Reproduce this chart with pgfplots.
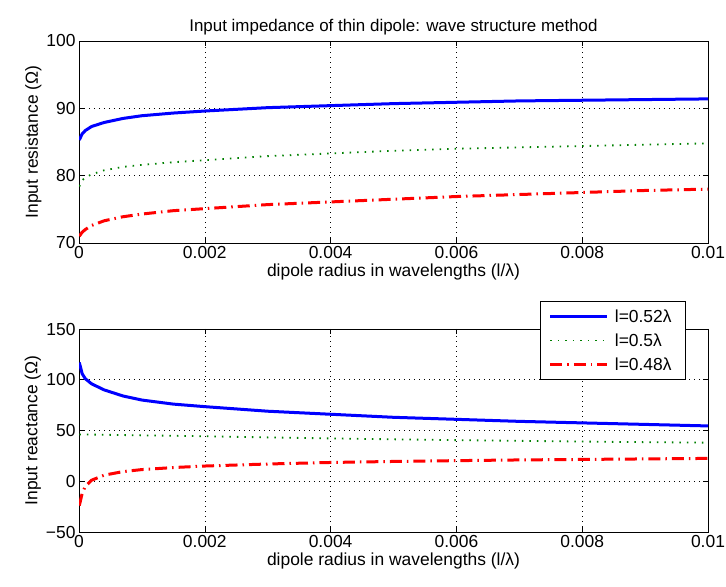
\documentclass[border=0pt]{standalone}
\usepackage{pgfplots}
\pgfplotsset{compat=1.18}
\usepackage{fontspec}
\setmainfont{Liberation Sans}
\begin{document}
\begin{tikzpicture}
\pgfplotsset{
  myax/.style={
    scale only axis, width=629bp, anchor=south west,
    xmin=0, xmax=0.01, scaled x ticks=false,
    xtick={0,0.002,0.004,0.006,0.008,0.01},
    xticklabels={0,0.002,0.004,0.006,0.008,0.01},
    tick align=inside, major tick length=5bp,
    xmajorgrids, ymajorgrids,
    major grid style={black, line width=0.5bp, dash pattern=on 1bp off 4bp},
    axis line style={line width=0.8bp},
    every tick/.style={black, line width=0.6bp},
    tick label style={font=\fontsize{17.5}{20}\selectfont},
    label style={font=\fontsize{17.5}{20}\selectfont},
    xlabel={dipole radius in wavelengths (l/λ)},
    xlabel style={yshift=2bp},
    ylabel style={yshift=-2bp},
  },
  blueL/.style={blue, line width=3bp, no marks},
  greenL/.style={green!50!black, line width=1.8bp, dash pattern=on 1.5bp off 6bp, no marks},
  redL/.style={red, line width=3bp, dash pattern=on 12bp off 5bp on 1.5bp off 5bp, no marks},
}
\begin{axis}[myax, at={(79bp,344bp)}, height=202bp,
  ymin=70, ymax=100, ytick={70,80,90,100},
  yticklabels={70,80,90,100},
  ylabel={Input resistance (Ω)},
  title={Input impedance of thin dipole: wave structure method},
  title style={font=\fontsize{17}{20}\selectfont, yshift=-4bp},
]
\addplot[blueL] coordinates {
(0.000005,85.3)(0.00005,86.2)(0.0001,86.7)(0.0002,87.3)(0.0004,87.9)(0.0007,88.5)(0.001,88.9)(0.0015,89.3)(0.002,89.6)(0.003,90.1)(0.004,90.4)(0.005,90.7)(0.006,90.9)(0.007,91.1)(0.008,91.2)(0.009,91.3)(0.01,91.4)};
\addplot[greenL] coordinates {
(0.000005,78.4)(0.00005,79.3)(0.0001,79.7)(0.0002,80.2)(0.0004,80.8)(0.0007,81.3)(0.001,81.6)(0.0015,82.0)(0.002,82.3)(0.003,82.9)(0.004,83.3)(0.005,83.7)(0.006,84.0)(0.007,84.2)(0.008,84.4)(0.009,84.6)(0.01,84.8)};
\addplot[redL] coordinates {
(0.000005,71.0)(0.00005,71.6)(0.0001,72.0)(0.0002,72.6)(0.0004,73.3)(0.0007,73.9)(0.001,74.3)(0.0015,74.8)(0.002,75.1)(0.003,75.7)(0.004,76.1)(0.005,76.5)(0.006,76.9)(0.007,77.2)(0.008,77.5)(0.009,77.8)(0.01,78.0)};
\end{axis}
\begin{axis}[myax, at={(79bp,55bp)}, height=203bp,
  ymin=-50, ymax=150, ytick={-50,0,50,100,150},
  yticklabels={−50,0,50,100,150},
  ylabel={Input reactance (Ω)},
  legend style={at={(0.965,1.138)}, anchor=north east, draw=black, line width=0.8bp,
    font=\fontsize{17.5}{20}\selectfont, row sep=8bp, inner xsep=8bp, inner ysep=7bp,
    nodes={inner xsep=6bp, inner ysep=1bp}},
  legend cell align=left,
  legend image code/.code={\draw[#1] (0bp,0bp) -- (57bp,0bp);},
]
\addplot[blueL] coordinates {
(0.000005,117)(0.00005,106)(0.0001,101)(0.0002,96)(0.0004,90)(0.0007,84)(0.001,80)(0.0015,76)(0.002,73.5)(0.003,69)(0.004,66)(0.005,63)(0.006,61)(0.007,59)(0.008,57.5)(0.009,56)(0.01,54.5)};
\addlegendentry{l=0.52λ}
\addplot[greenL] coordinates {
(0.000005,46)(0.00005,46)(0.0001,46)(0.0002,46)(0.0004,45.8)(0.0007,45.5)(0.001,45.2)(0.0015,44.8)(0.002,44.3)(0.003,43.2)(0.004,42.2)(0.005,41.3)(0.006,40.5)(0.007,39.8)(0.008,39.1)(0.009,38.5)(0.01,38)};
\addlegendentry{l=0.5λ}
\addplot[redL] coordinates {
(0.000005,-24)(0.00005,-12)(0.0001,-5)(0.0002,1)(0.0004,6)(0.0007,9.5)(0.001,11.5)(0.0015,13.5)(0.002,15)(0.003,17)(0.004,18.5)(0.005,19.5)(0.006,20.3)(0.007,21)(0.008,21.5)(0.009,22)(0.01,22.5)};
\addlegendentry{l=0.48λ}
\end{axis}
\pgfresetboundingbox
\path[use as bounding box] (0,0) rectangle (726bp,587bp);
\end{tikzpicture}
\end{document}
